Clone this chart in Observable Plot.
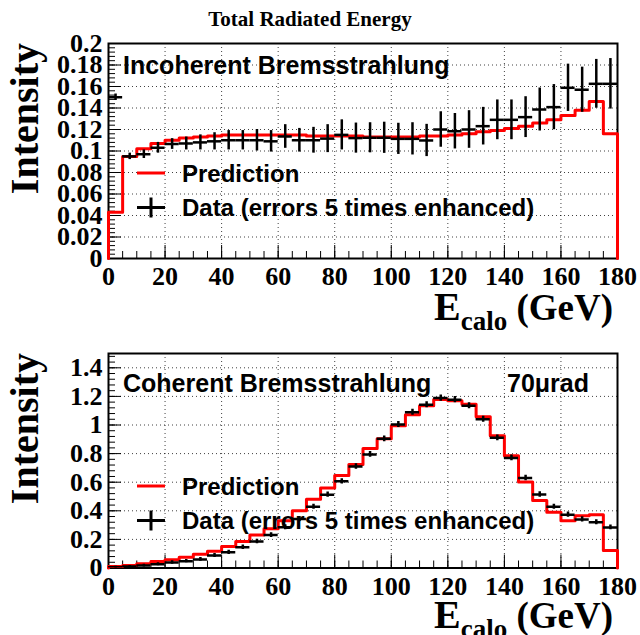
<!DOCTYPE html>
<html><head><meta charset="utf-8">
<script src="https://cdn.jsdelivr.net/npm/d3@7"></script>
<script src="https://cdn.jsdelivr.net/npm/@observablehq/plot@0.6"></script>
<style>
body{margin:0;background:#fff}
#wrap{position:relative;width:640px;height:635px;overflow:hidden;background:#fff}
#title{position:absolute;left:0;top:9px;width:620px;text-align:center;font-family:"Liberation Serif",serif;font-weight:bold;font-size:21px;line-height:21px;color:#000}
.panel{position:absolute;left:0}
</style></head>
<body>
<div id="wrap">
  <div class="panel" id="p1" style="top:30px"></div>
  <div class="panel" id="p2" style="top:335px"></div>
  <div id="title">Total Radiated Energy</div>
</div>
<script>
// ---- data ----
const binStart = [0,5,10,15,20,25,30,35,40,45,50,55,60,65,70,75,80,85,90,95,100,105,110,115,120,125,130,135,140,145,150,155,160,165,170,175];
const binWidth = 5;

// Incoherent bremsstrahlung (top panel)
const incoPred = [0.043,0.095,0.102,0.107,0.110,0.112,0.113,0.114,0.115,0.115,0.115,0.115,0.115,0.115,0.114,0.114,0.114,0.114,0.113,0.113,0.113,0.113,0.114,0.114,0.115,0.116,0.118,0.119,0.121,0.123,0.126,0.129,0.133,0.138,0.146,0.116];
const incoData = [0.150,0.095,0.097,0.103,0.1065,0.107,0.108,0.109,0.110,0.110,0.110,0.109,0.1135,0.110,0.110,0.1115,0.115,0.112,0.1123,0.1123,0.1113,0.1113,0.1098,0.120,0.1184,0.120,0.1231,0.129,0.129,0.1315,0.1386,0.1408,0.1588,0.157,0.1625,0.1625];
const incoErr  = [0.003,0.003,0.004,0.005,0.005,0.006,0.007,0.008,0.009,0.009,0.010,0.010,0.011,0.011,0.012,0.013,0.014,0.014,0.014,0.0145,0.0145,0.015,0.015,0.0165,0.0165,0.0175,0.0175,0.0185,0.0185,0.019,0.020,0.021,0.022,0.021,0.0227,0.0235];

// Coherent bremsstrahlung (bottom panel)
const cohPred = [0.010,0.017,0.030,0.045,0.057,0.075,0.096,0.117,0.150,0.185,0.230,0.274,0.330,0.400,0.480,0.560,0.647,0.724,0.835,0.903,0.994,1.071,1.134,1.178,1.169,1.145,1.057,0.925,0.785,0.602,0.472,0.389,0.331,0.366,0.373,0.122];
const cohData = [0.005,0.010,0.017,0.026,0.038,0.048,0.060,0.087,0.110,0.145,0.185,0.230,0.285,0.343,0.428,0.513,0.606,0.710,0.794,0.903,1.003,1.089,1.141,1.188,1.177,1.134,1.040,0.910,0.770,0.630,0.514,0.428,0.373,0.340,0.320,0.284];
const cohErr  = [0.008,0.008,0.010,0.010,0.012,0.012,0.013,0.014,0.015,0.015,0.016,0.016,0.017,0.017,0.018,0.018,0.019,0.019,0.020,0.020,0.021,0.021,0.021,0.022,0.022,0.021,0.021,0.020,0.020,0.019,0.019,0.018,0.018,0.018,0.017,0.017];

// ticks
const xTicks = [0,20,40,60,80,100,120,140,160,180];
const xGrid = [20,40,60,80,100,120,140,160];
const incoYTicks = [0,0.02,0.04,0.06,0.08,0.1,0.12,0.14,0.16,0.18,0.2];
const cohYTicks = [0,0.2,0.4,0.6,0.8,1,1.2,1.4];

// ---- helpers ----
function outline(pred) {
  const n = pred.length;
  const pts = [{x: binStart[0], y: 0}];
  pred.forEach((v, i) => pts.push({x: binStart[i], y: v}));
  pts.push({x: binStart[n-1] + binWidth, y: pred[n-1]});
  pts.push({x: binStart[n-1] + binWidth, y: 0});
  return pts;
}
function rows(vals, errs) {
  return binStart.map((s, i) => ({lo: s, hi: s + binWidth, c: s + binWidth/2, v: vals[i], e: errs[i]}));
}
const fmt = d => String(+d.toFixed(3));

function panel({pred, data, err, yDomain, yTicks, yMinorStep, height, marginTop, marginBottom}) {
  const yMinor = d3.range(yDomain[0], yDomain[1] + yMinorStep/2, yMinorStep);
  const xMinor = d3.range(0, 181, 5);
  const r = rows(data, err);
  return Plot.plot({
    width: 640, height,
    marginTop, marginBottom, marginLeft: 108, marginRight: 23,
    style: {fontFamily: "'Liberation Serif', serif", background: "white", overflow: "visible", color: "black"},
    x: {domain: [0, 180]},
    y: {domain: yDomain},
    marks: [
      Plot.gridX(xGrid, {stroke: "black", strokeOpacity: 0.75, strokeDasharray: "1,3"}),
      Plot.gridY(yTicks.filter(t => t > yDomain[0] && t < yDomain[1]), {stroke: "black", strokeOpacity: 0.75, strokeDasharray: "1,3"}),
      Plot.axisX({ticks: xMinor, tickSize: -7, fill: "none", label: null}),
      Plot.axisX({ticks: xTicks, tickSize: -13, fill: "none", label: null}),
      Plot.axisX({ticks: xTicks, tickSize: 0, tickPadding: 8.5, fontSize: 26, fontWeight: "bold", tickFormat: d => String(d), label: null}),
      Plot.axisY({ticks: yMinor, tickSize: -7, fill: "none", label: null}),
      Plot.axisY({ticks: yTicks, tickSize: -13, fill: "none", label: null}),
      Plot.axisY({ticks: yTicks, tickSize: 0, tickPadding: 6, fontSize: 26, fontWeight: "bold", tickFormat: fmt, label: null}),
      Plot.frame({stroke: "black", strokeWidth: 2}),
      Plot.line(outline(pred), {x: "x", y: "y", curve: "step-after", stroke: "#ff0000", strokeWidth: 3}),
      Plot.ruleY(r, {y: "v", x1: "lo", x2: "hi", stroke: "black", strokeWidth: 2.5, clip: true}),
      Plot.ruleX(r, {x: "c", y1: d => d.v - d.e, y2: d => d.v + d.e, stroke: "black", strokeWidth: 2.5, clip: true})
    ]
  });
}

function txt(sel, x, y, s, size, family, anchor = "start") {
  return sel.append("text").attr("x", x).attr("y", y).attr("font-size", size)
    .attr("font-family", family).attr("font-weight", "bold").attr("text-anchor", anchor)
    .attr("fill", "black").text(s);
}
const SANS = "'Liberation Sans', Arial, sans-serif";
const SERIF = "'Liberation Serif', 'Times New Roman', serif";

function decorate(svgEl, o) {
  const s = d3.select(svgEl);
  s.append("text").attr("transform", `translate(38,${o.frameTop}) rotate(-90)`)
    .attr("text-anchor", "end").attr("font-family", SERIF).attr("font-weight", "bold")
    .attr("font-size", 40).attr("fill", "black").text("Intensity");
  const t = s.append("text").attr("x", 613).attr("y", o.xTitleY).attr("text-anchor", "end")
    .attr("font-family", SERIF).attr("font-weight", "bold").attr("fill", "black");
  t.append("tspan").attr("font-size", 40).text("E");
  t.append("tspan").attr("font-size", 27).attr("dy", 10).text("calo");
  t.append("tspan").attr("font-size", 37).attr("dy", -10).text(" (GeV)");
  txt(s, 123, o.labelY, o.label, 25, SANS);
  if (o.label2) txt(s, 507, o.labelY, o.label2, 25, SANS);
  s.append("line").attr("x1", 137).attr("x2", 165).attr("y1", o.predY - 9).attr("y2", o.predY - 9)
    .attr("stroke", "#ff0000").attr("stroke-width", 3);
  txt(s, 182, o.predY, "Prediction", 24, SANS);
  const cy = o.dataY - 8.5;
  s.append("line").attr("x1", 137).attr("x2", 165).attr("y1", cy).attr("y2", cy).attr("stroke", "black").attr("stroke-width", 3);
  s.append("line").attr("x1", 151).attr("x2", 151).attr("y1", cy - 10).attr("y2", cy + 10).attr("stroke", "black").attr("stroke-width", 3);
  txt(s, 182, o.dataY, "Data (errors 5 times enhanced)", 24, SANS);
}

const topPanel = panel({pred: incoPred, data: incoData, err: incoErr, yDomain: [0, 0.2], yTicks: incoYTicks, yMinorStep: 0.004, height: 305, marginTop: 13, marginBottom: 77});
document.getElementById("p1").appendChild(topPanel);
decorate(topPanel, {frameTop: 13, xTitleY: 290, labelY: 43.5, label: "Incoherent Bremsstrahlung", predY: 152, dataY: 186});

const botPanel = panel({pred: cohPred, data: cohData, err: cohErr, yDomain: [0, 1.5], yTicks: cohYTicks, yMinorStep: 0.04, height: 300, marginTop: 18, marginBottom: 67.5});
document.getElementById("p2").appendChild(botPanel);
decorate(botPanel, {frameTop: 18, xTitleY: 293, labelY: 56.5, label: "Coherent Bremsstrahlung", label2: "70μrad", predY: 160, dataY: 194});
</script>
</body></html>
